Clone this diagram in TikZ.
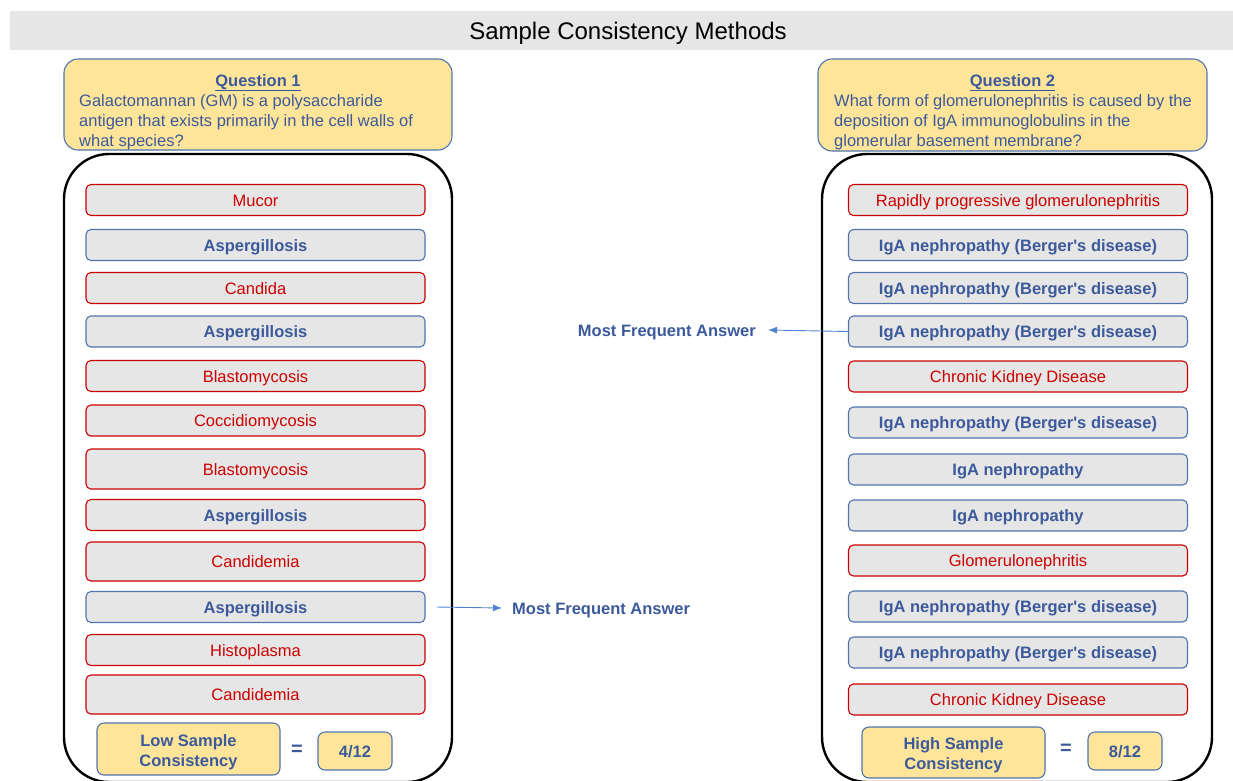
\documentclass[tikz,border=0pt]{standalone}
\usepackage{fontspec}
\setmainfont{Liberation Sans}
\usetikzlibrary{arrows.meta}

\definecolor{ansblue}{RGB}{60,90,155}
\definecolor{ansred}{RGB}{204,0,0}
\definecolor{boxgray}{RGB}{230,230,230}
\definecolor{qyellow}{RGB}{255,229,153}
\definecolor{edgeblue}{RGB}{80,115,175}
\definecolor{arrowblue}{RGB}{80,130,210}

\begin{document}
\begin{tikzpicture}[x=1pt, y=-1pt,
    answer/.style={rectangle, rounded corners=5pt, fill=boxgray, line width=1.1pt, minimum width=339pt, inner sep=0pt, text height=12pt, text depth=0pt, font=\fontsize{16.5}{20}\selectfont},
    other/.style={answer, draw=ansred, text=ansred},
    frequent/.style={answer, draw=edgeblue, text=ansblue, font=\fontsize{16.5}{20}\selectfont\bfseries},
    oddedge/.style={frequent, draw=ansred},
    qbox/.style={rectangle, rounded corners=14pt, fill=qyellow, draw=edgeblue, line width=1.1pt},
    qtext/.style={text=ansblue, font=\fontsize{16.5}{20}\selectfont, align=left, inner sep=0pt, anchor=north west},
    score/.style={rectangle, rounded corners=7pt, fill=qyellow, draw=edgeblue, line width=1.1pt, text=ansblue, font=\fontsize{16.5}{20}\selectfont\bfseries, align=center, inner sep=0pt},
    note/.style={text=ansblue, font=\fontsize{16.5}{20}\selectfont\bfseries, inner sep=0pt, text height=12pt, text depth=0pt},
    arrow/.style={-{Latex[length=9pt,width=7pt]}, arrowblue, line width=0.9pt},
    outline/.style={line width=2.4pt, rounded corners=45pt}
  ]

  \useasboundingbox (0,0) rectangle (1233,780);
  \clip (0,0) rectangle (1233,780);

  % Title bar
  \fill[boxgray] (10,11) rectangle (1233,50);
  \node[font=\fontsize{24}{28}\selectfont, text height=17pt, text depth=0pt] (title) at (628,31) {Sample Consistency Methods};

  % Questions
  \node[qbox, minimum width=388pt, minimum height=91pt] (q1) at (258,104.5) {};
  \node[note] (q1head) at (258,80) {\underline{Question 1}};
  \node[qtext] (q1text) at (79,94) {Galactomannan (GM) is a polysaccharide\\antigen that exists primarily in the cell walls of\\what species?};

  \node[qbox, minimum width=389pt, minimum height=92pt] (q2) at (1012.5,105) {};
  \node[note] (q2head) at (1012.5,80) {\underline{Question 2}};
  \node[qtext] (q2text) at (834,94) {What form of glomerulonephritis is caused by the\\deposition of IgA immunoglobulins in the\\glomerular basement membrane?};

  % Sample outlines
  \draw[outline] (64,154) rectangle (452,782);
  \draw[outline] (822,154) rectangle (1212,782);

  % Samples for question 1
  \foreach \y/\h/\s/\t [count=\i] in {200/31/other/Mucor, 245/31/frequent/Aspergillosis,
      288/31/other/Candida, 331.5/31/frequent/Aspergillosis, 376/31/other/Blastomycosis,
      420.5/31/other/Coccidiomycosis, 469/40/other/Blastomycosis, 515/31/oddedge/Aspergillosis,
      561.5/39/other/Candidemia, 607/31/frequent/Aspergillosis, 650/31/other/Histoplasma,
      694.5/39/other/Candidemia} {
      \node[\s, minimum height=\h] (l\i) at (255.5,\y) {\t};
    }

  % Samples for question 2
  \foreach \y/\h/\s/\t [count=\i] in {200/31/other/Rapidly progressive glomerulonephritis,
      245/31/frequent/IgA nephropathy (Berger\textquotesingle s disease),
      288/31/frequent/IgA nephropathy (Berger\textquotesingle s disease),
      331.5/31/frequent/IgA nephropathy (Berger\textquotesingle s disease),
      376.5/31/other/Chronic Kidney Disease,
      422.5/31/frequent/IgA nephropathy (Berger\textquotesingle s disease),
      469.5/31/frequent/IgA nephropathy, 515.5/31/frequent/IgA nephropathy,
      560.5/31/other/Glomerulonephritis,
      606.5/31/frequent/IgA nephropathy (Berger\textquotesingle s disease),
      652.5/31/frequent/IgA nephropathy (Berger\textquotesingle s disease),
      699.5/31/other/Chronic Kidney Disease} {
      \node[\s, minimum height=\h] (r\i) at (1018,\y) {\t};
    }

  % Most frequent answer
  \node[note, anchor=west] (mfa1) at (512,608) {Most Frequent Answer};
  \draw[arrow] ([xshift=11pt]l10.east) -- ([xshift=-10pt]mfa1.west);
  \node[note, anchor=east] (mfa2) at (756,330) {Most Frequent Answer};
  \draw[arrow] (r4.west) -- ([xshift=12pt]mfa2.east);

  % Consistency scores
  \node[score, minimum width=183pt, minimum height=52pt, text height=34.5pt, text depth=0pt] (low) at (188.5,749) {Low Sample\\Consistency};
  \node[note, font=\fontsize{20}{20}\selectfont\bfseries, text height=10pt] (eq1) at (297,750) {=};
  \node[score, minimum width=74pt, minimum height=38pt, text height=12pt, text depth=0pt] (lowval) at (355,751) {4/12};

  \node[score, minimum width=183pt, minimum height=51pt, text height=34.5pt, text depth=0pt] (high) at (953.5,752.5) {High Sample\\Consistency};
  \node[note, font=\fontsize{20}{20}\selectfont\bfseries, text height=10pt] (eq2) at (1066,749) {=};
  \node[score, minimum width=74pt, minimum height=38pt, text height=12pt, text depth=0pt] (highval) at (1125,751) {8/12};

\end{tikzpicture}
\end{document}
